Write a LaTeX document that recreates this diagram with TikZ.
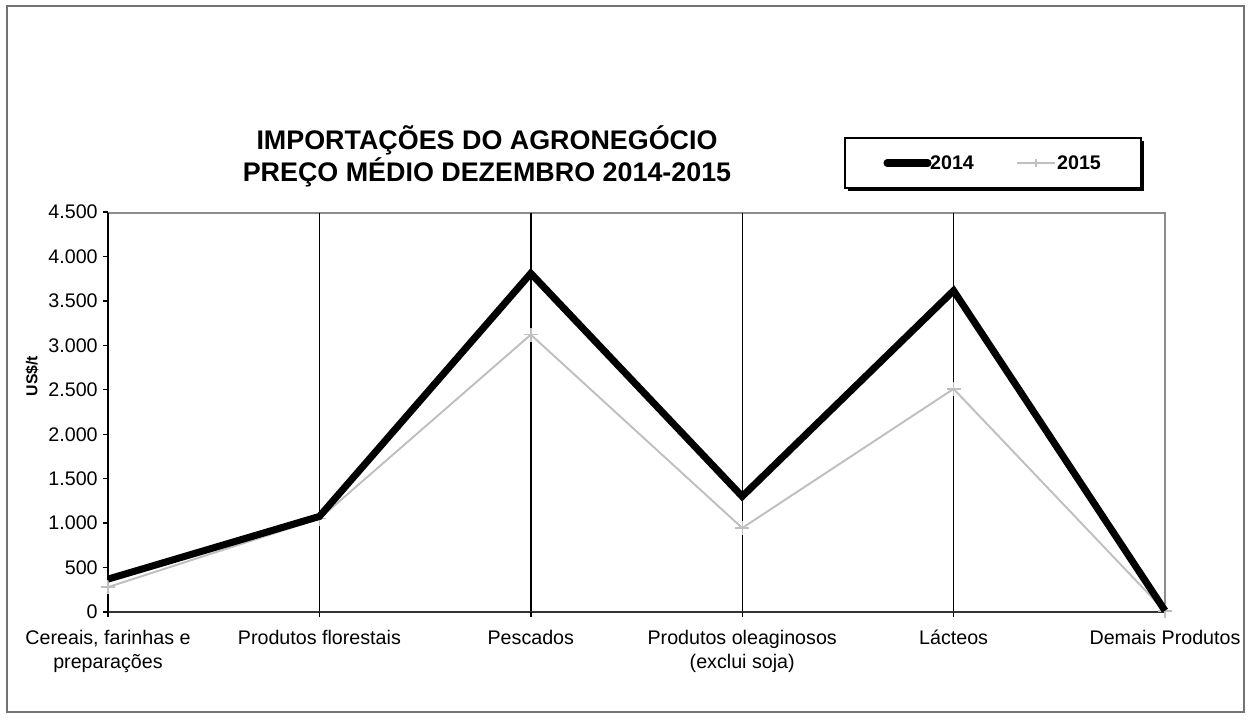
\documentclass[tikz,border=0pt]{standalone}
\usepackage{fontspec}
\setmainfont{Liberation Sans}
\usetikzlibrary{positioning}
\definecolor{framegray}{gray}{0.45}
\definecolor{gridgray}{gray}{0.55}
\definecolor{lightline}{gray}{0.75}

\begin{document}
\begin{tikzpicture}[x=0.02cm,y=-0.02cm,
    ticklabel/.style={font=\fontsize{11.2}{13.6}\selectfont},
    catlabel/.style={ticklabel, align=center, anchor=north},
    serieA/.style={line width=4pt, black},
    serieB/.style={line width=1.1pt, lightline},
    plusmark/.style={lightline, line width=0.8pt}]
    \useasboundingbox (0,0) rectangle (1251,720);
    \draw[framegray, line width=0.8pt] (7,6) rectangle (1244,712);

    % plot area
    \coordinate (origin) at (108,612);
    \coordinate (topright) at (1165,213);
    \draw[gridgray, line width=0.9pt] (108,213) -- (topright) -- (1165,612);
    \foreach \i in {1,...,4}
        \draw[black, line width=0.8pt] ({108+\i*211.4},213) -- ({108+\i*211.4},612);
    \draw[black, line width=1.2pt] (108,213) -- (origin);
    \draw[black!80, line width=1.6pt] (origin) -- (1165,612);

    % y ticks
    \foreach \v/\t in {0/0,500/500,1000/1.000,1500/1.500,2000/2.000,2500/2.500,3000/3.000,3500/3.500,4000/4.000,4500/4.500} {
        \draw[black, line width=0.8pt] (103,{612-\v/11.25}) -- (108,{612-\v/11.25});
        \node[ticklabel, anchor=east, inner sep=0pt] (yl\v) at (98,{612-\v/11.25}) {\t};
    }
    \node[font=\bfseries\fontsize{9}{11}\selectfont, rotate=90] (ylab) at (32,376) {US\$/t};

    % x ticks and categories
    \foreach \lab [count=\i] in {{Cereais, farinhas e\\preparações},{Produtos florestais},{Pescados},{Produtos oleaginosos\\(exclui soja)},{Lácteos},{Demais Produtos}} {
        \draw[black, line width=0.8pt] ({108+(\i-1)*211.4},612) -- ({108+(\i-1)*211.4},617);
        \node[catlabel] (cat\i) at ({108+(\i-1)*211.4},624) {\lab};
    }

    % data
    \foreach \v [count=\i] in {370,1075,3810,1300,3615,15}
        \coordinate (a\i) at ({108+(\i-1)*211.4},{612-\v/11.25});
    \foreach \v [count=\i] in {280,1050,3120,945,2510,10}
        \coordinate (b\i) at ({108+(\i-1)*211.4},{612-\v/11.25});

    \draw[serieB] (b1) -- (b2) -- (b3) -- (b4) -- (b5) -- (b6);
    \foreach \i in {1,...,6}
        \draw[plusmark] ([xshift=-4]b\i) -- ([xshift=4]b\i) ([yshift=-4]b\i) -- ([yshift=4]b\i);
    \draw[serieA] (a1) -- (a2) -- (a3) -- (a4) -- (a5) -- (a6);

    % title
    \node[font=\bfseries\fontsize{15.3}{18.2}\selectfont, align=center] (title) at (487,156)
        {IMPORTAÇÕES DO AGRONEGÓCIO\\PREÇO MÉDIO DEZEMBRO 2014-2015};

    % legend
    \fill[black] (848,141) rectangle (1144,191);
    \draw[black, fill=white, line width=0.8pt] (845,138) rectangle (1141,188);
    \coordinate (la) at (887,163);
    \coordinate (lb) at (928,163);
    \draw[line width=4pt, line cap=round] (la) -- (lb);
    \node[font=\bfseries\fontsize{11.2}{13}\selectfont, anchor=west, inner sep=1pt] (l14) at (lb) {2014};
    \coordinate (lc) at (1017,163);
    \coordinate (ld) at (1055,163);
    \draw[serieB] (lc) -- (ld);
    \draw[plusmark] (1036,159) -- (1036,167);
    \node[font=\bfseries\fontsize{11.2}{13}\selectfont, anchor=west, inner sep=1pt] (l15) at (ld) {2015};
\end{tikzpicture}
\end{document}
